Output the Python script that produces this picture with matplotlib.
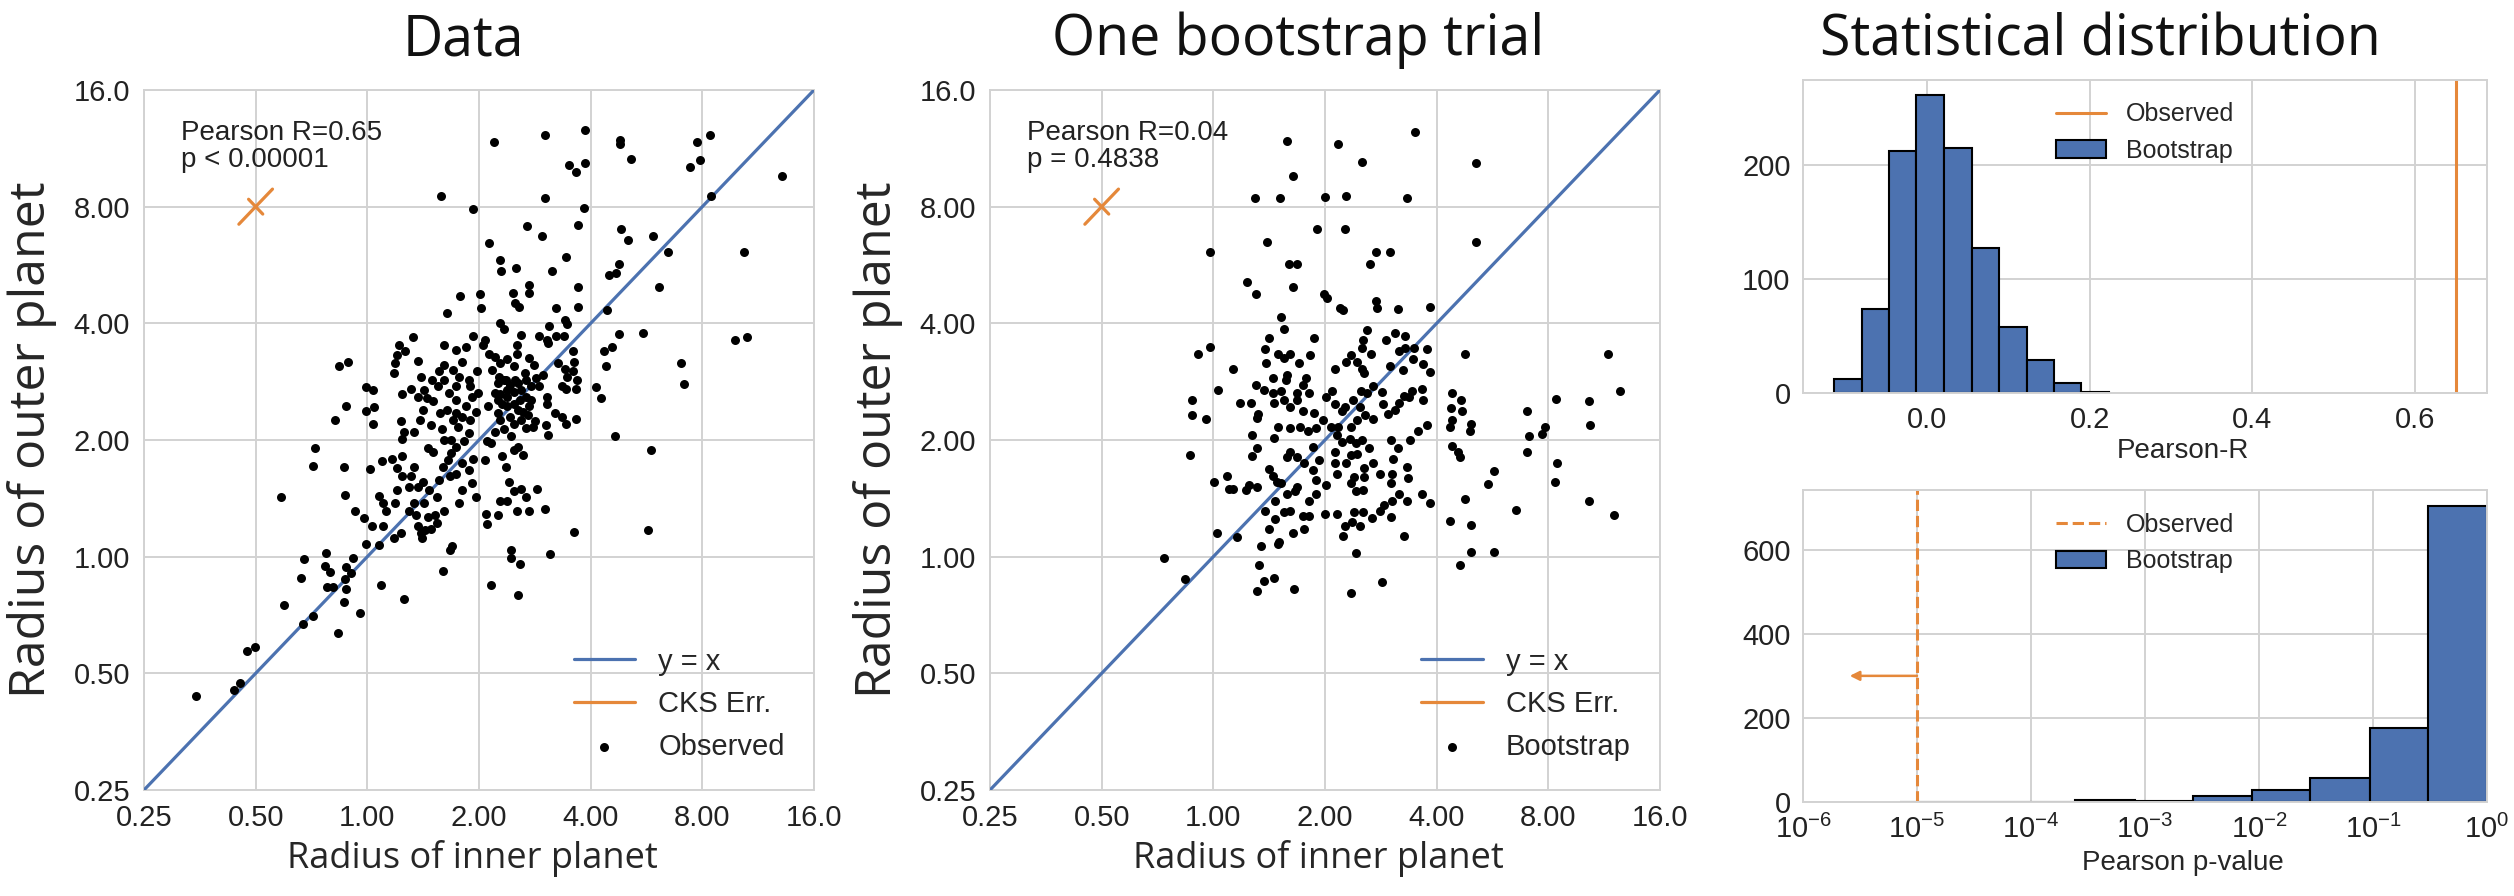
import numpy as np
import matplotlib
matplotlib.use('Agg')
import matplotlib.pyplot as plt
from matplotlib.ticker import NullLocator, FixedLocator, LogFormatterSciNotation

plt.style.use('seaborn-v0_8-whitegrid')
plt.rcParams['font.family'] = ['Liberation Sans', 'DejaVu Sans']
plt.rcParams['mathtext.fontset'] = 'custom'
plt.rcParams['mathtext.rm'] = 'Liberation Sans'
plt.rcParams['mathtext.it'] = 'Liberation Sans:italic'

BLUE = '#4C72B0'
ORANGE = '#E5883A'
GRID = '#d2d2d2'

# ---- scatter data, read as log2(radius) off the log2 axes ----
obs_inner_log2 = [
    -1.53, -1.19, -1.14, -1.08, -1.01, -0.75, -0.58, -0.49, -0.26, -0.59, -0.57, -0.37, -0.38, -0.33,
    -0.36, -0.31, -0.21, -0.19, -0.20, -0.15, -0.19, -0.13, -0.07, 0.12, 0.33, 0.68, 0.74, 0.76, -0.01,
    -0.77, -0.49, -0.47, -0.21, -0.20, -0.11, -0.03, 0.04, 0.10, -0.29, -0.19, -0.25, -0.17, -0.01,
    0.05, -0.01, 0.06, 0.05, 0.02, 0.13, 0.10, 0.14, 0.17, 0.14, 0.24, 0.30, 0.25, 0.27, 0.22, 0.31,
    0.30, 0.25, 0.24, 0.27, 0.28, 0.34, 0.41, 0.45, 0.31, 0.33, 0.42, 0.27, 0.31, 0.37, 0.37, 0.44,
    0.45, 0.48, 0.52, 0.49, 0.57, 0.62, 0.69, 0.61, 0.54, 0.39, 0.45, 0.42, 0.50, 0.55, 0.54, 0.59,
    0.68, 0.74, 0.79, 0.64, 0.72, 0.85, 0.94, 0.97, 0.91, 0.95, 0.79, 0.75, 0.69, 0.87, 0.67, 0.57,
    0.47, 0.50, 0.53, 0.59, 0.65, 0.71, 0.63, 0.69, 0.73, 0.79, 0.79, 0.88, 0.94, 0.85, 0.92, 0.97,
    0.81, 0.69, 0.69, 0.64, 0.79, 0.85, 0.88, 0.95, 0.92, 0.98, 0.45, 0.39, 0.48,
    2.61, 2.15, 1.89, 1.89, 1.69, 1.45, 1.45, 1.30, 1.32, 1.36, 1.01, 1.02, 1.19, 1.22, 1.77, 1.79,
    1.63, 1.54, 1.61, 1.62, 1.69, 1.76, 1.38, 1.34, 1.34, 1.84, 1.85, 1.84, 1.88, 1.87, 1.71, 1.77,
    1.79, 1.74, 1.78, 2.12, 2.19, 2.25, 2.47, 2.14, 2.05, 2.09, 2.22, 2.54, 2.51, 1.85, 1.64, 1.29,
    1.29, 1.37, 1.11, 1.35, 1.06, 1.07, 1.17, 1.34, 1.45, 1.59, 1.38, 1.42, 1.52, 1.19, 1.25, 1.27,
    1.31, 1.24, 1.31, 1.35, 1.39, 1.21, 1.11, 1.05, 1.62, 1.60, 1.48, 1.42, 1.50, 1.68, 1.74, 1.78,
    1.87, 1.61, 1.61, 1.45, 1.39, 1.29, 1.22, 1.14, 1.07, 1.28, 1.17, 1.08, 1.14, 1.19, 1.25, 1.31,
    1.35, 1.42, 1.47, 1.51, 1.57, 1.41, 1.22, 1.17, 1.12, 1.19, 1.25, 1.31, 1.14, 1.09, 1.45, 1.49,
    1.05, 1.04, 1.54, 1.37, 1.25, 2.81, 2.84, 3.29, 3.40,
    1.13, 1.59, 1.95, 1.81, 1.87, 1.95, 2.26, 2.26, 2.36, 2.95, 3.07, 2.89, 2.98, 3.71, 3.08, 0.66,
    0.95, 1.59, 1.94, 1.43, 1.56, 1.89, 1.09, 1.78, 2.27, 2.33, 2.56, 2.69, 3.37, 1.19, 1.20, 1.33,
    1.65, 2.25, 2.23, 2.16, 0.83, 0.71,
    1.18, 1.24, 1.28, 1.32, 1.38, 1.42, 1.47, 1.25, 1.31, 1.35, 1.21, 1.17, 1.44, 1.38, 1.31, 1.19,
    0.51, 0.58, 0.77, 0.82, 0.91, 0.99, 0.77, 0.79, 0.91, 0.75, 0.85, 0.42, 0.51, 0.62, 0.82, 0.31,
]
obs_outer_log2 = [
    -1.19, -1.14, -1.08, -0.81, -0.77, -0.41, -0.58, -0.51, -0.65, -0.18, -0.02, 0.03, -0.08, -0.13,
    -0.26, -0.26, -0.39, -0.28, -0.19, -0.14, -0.09, -0.01, -0.48, -0.24, -0.36, -0.12, 0.06, 0.09, 0.11,
    0.51, 0.78, 0.93, 0.77, 0.53, 0.39, 0.33, 0.26, 0.10, 1.17, 1.29, 1.63, 1.67, 1.45,
    1.43, 1.25, 1.28, 1.14, 0.75, 0.82, 0.52, 0.46, 0.39, 0.26, 0.16, 0.20, 0.46, 0.57, 0.84, 1.39,
    1.16, 1.66, 1.57, 1.73, 1.81, 1.76, 1.88, 1.68, 1.01, 1.07, 1.07, 0.76, 0.69, 0.60, 0.39, 0.36,
    0.26, 0.20, 0.23, 0.16, 0.24, 0.29, 0.39, 0.36, 0.34, 0.69, 0.60, 0.77, 0.64, 0.57, 0.93, 0.90,
    0.77, 0.69, 0.71, 0.66, 0.83, 0.57, 0.63, 0.51, 0.74, 0.84, 0.94, 1.00, 1.00, 0.99, 1.09, 1.13,
    1.17, 1.26, 1.36, 1.33, 1.23, 1.26, 1.46, 1.51, 1.40, 1.46, 1.34, 1.29, 1.37, 1.20, 1.17, 1.24,
    1.11, 1.81, 1.64, 1.59, 1.77, 1.67, 1.80, 1.89, 1.46, 1.59, 1.37, 1.44, 1.54,
    2.31, 2.11, 2.31, 2.14, 2.13, 2.33, 2.26, 2.26, 2.17, 2.14, 2.25, 2.13, 2.00, 1.95, 2.03, 1.99,
    1.98, 1.89, 1.86, 1.83, 1.89, 1.89, 1.90, 1.81, 1.74, 1.76, 1.67, 1.59, 1.51, 1.44, 1.66, 1.61,
    1.54, 1.46, 1.44, 1.76, 1.80, 1.91, 1.92, 1.63, 1.45, 1.36, 1.03, 0.91, 0.23, 0.21, 0.02, 0.06,
    -0.01, -0.06, -0.24, -0.33, 0.37, 0.28, 0.36, 0.39, 0.39, 0.41, 0.58, 0.51, 0.58, 0.48, 0.48, 0.64,
    0.56, 0.77, 0.91, 0.94, 0.87, 0.86, 0.97, 0.83, 1.04, 1.13, 1.11, 1.10, 1.16, 1.23, 1.20, 1.14,
    1.18, 1.37, 1.31, 1.29, 1.24, 1.03, 1.09, 1.07, 0.99, 1.20, 1.23, 1.29, 1.40, 1.39, 1.43, 1.41,
    1.49, 1.51, 1.46, 1.53, 1.56, 1.57, 1.51, 1.49, 1.60, 1.66, 1.69, 1.63, 1.71, 1.74, 1.70, 1.64,
    1.86, 1.81, 1.46, 1.34, 1.29, 1.66, 1.48, 1.86, 1.88,
    3.55, 3.61, 3.66, 3.36, 3.30, 3.37, 3.57, 3.54, 3.41, 3.55, 3.61, 3.34, 3.40, 3.26, 3.09, 3.09,
    2.98, 3.07, 2.99, 2.83, 2.75, 2.84, 2.69, 2.57, 2.81, 2.71, 2.75, 2.61, 2.61, 2.54, 2.45, 2.47,
    2.45, 2.51, 2.43, 2.41, 2.23, 2.09,
    1.54, 1.51, 1.47, 1.51, 1.43, 1.37, 1.34, 1.37, 1.31, 1.26, 1.31, 1.34, 1.21, 1.17, 1.14, 1.17,
    1.43, 1.51, 1.60, 1.54, 1.51, 1.40, 1.17, 1.23, 1.06, 0.89, 0.80, 0.46, 0.46, 0.51, 0.46, 0.86,
]

boot_inner_log2 = [
    -0.44, -0.25, 0.03, 0.21, 0.39, 0.45, 0.54, 0.41, 0.43, 0.58, 0.50, 0.55, 0.46, -0.21, -0.19, -0.19,
    -0.07, 0.04, 0.01, 0.12, 0.14, 0.18, 0.29, 0.32, 0.39, 0.35, 0.39, 0.35, 0.39, 0.40, 0.34, 0.24,
    0.54, 0.54, 0.53, 0.45, 0.38, 0.50, 0.53, 0.57, 0.55, 0.58,
    3.64, 3.07, 3.36, 3.37, 2.81, 2.97, 2.94, 2.83, 2.81, 3.08, 3.06, 3.36, 3.59, 2.71, 2.51, 2.46,
    2.25, 2.31, 2.31, 2.51, 2.21, 2.12, 2.14, 2.22, 2.23, 2.13, 2.14, 2.12, 2.31, 2.30, 2.14, 2.19,
    2.21, 1.94, 1.87, 1.73, 1.66, 1.60, 1.53, 1.49, 1.59, 1.42, 1.71, 1.34, 1.26, 1.11, 1.00, 1.31,
    1.24, 1.18, 1.16, 1.28, 0.86, 0.80, 0.69, 0.63, 0.81, 0.71, 0.59, 0.72, 1.23, 1.51, 1.74, 1.73,
    1.60, 1.59, 1.61, 1.65, 1.59, 1.76, 1.83, 1.91, 1.88, 1.87, 1.78, 1.75, 1.71, 1.66, 1.63, 1.56,
    1.52, 1.51, 1.43, 1.38, 1.32, 1.25, 1.31, 1.18, 1.15, 1.36, 1.43, 1.29, 1.23, 1.12, 1.05, 1.11,
    1.15, 1.22, 1.28, 1.33, 1.39, 1.29, 1.23, 1.19, 1.35, 1.43, 1.49, 1.26, 1.35, 1.23, 1.28, 1.34,
    1.09, 1.11, 1.01, 0.92, 0.89, 0.81, 0.75, 0.69, 0.66, 0.92, 0.86, 0.75, 0.73, 0.66, 0.61, 1.09,
    0.95, 0.89, 0.85, 0.78, 0.69, 0.92, 0.98, 0.90, 0.80, 0.75, 0.69, 0.63, 0.86, 0.80, 0.75, 1.01,
    1.09, 1.06, 0.65, 0.61,
    0.66, 1.12, 1.81, 1.33, 2.35, 0.71, 0.37, 0.60, 1.00, 1.19, 1.73, 0.93, 1.18, 0.48, -0.03, 2.35,
    0.68, 0.75, 1.46, 1.58, 1.40, 0.30, 0.38, 0.71, 0.99, 1.02, 1.13, 1.16, 1.46, 1.47, 1.65, 1.94,
    0.61, 0.63, 0.50, 0.90, -0.03, -0.14, 0.46, 0.58, 0.69, 0.87, 0.47, 0.63, 0.18, 0.77, 1.38, 1.34,
    1.33, 1.41, 1.55, 1.63, 1.72, 1.66, 1.72, 1.80, 1.91, 1.79, 1.88, 1.94, 1.70, 1.23, 1.19, 1.29,
    1.09, 1.33, 1.35, 2.25, 3.53, 1.58, 0.66, 0.83, 0.53,
]
boot_outer_log2 = [
    -0.01, -0.19, 0.20, 0.17, -0.29, -0.21, -0.18, -0.07, 0.09, 0.11, 0.24, 0.32, 0.39, 0.87, 1.21, 1.34,
    1.18, 1.43, 0.64, 0.69, 0.58, 0.58, 0.57, 0.61, 0.60, 0.86, 0.93, 1.04, 1.19, 1.22, 1.32, 1.32,
    1.02, 1.32, 1.40, 1.43, 1.47, 0.75, 0.69, 0.64, 0.48, 1.11,
    1.42, 1.35, 1.33, 1.13, 1.25, 1.11, 1.05, 1.03, 0.90, 0.80, 0.64, 0.48, 0.36, 0.40, 0.73, 0.62,
    0.49, 0.27, 0.04, 0.04, -0.07, 0.31, 1.40, 1.34, 1.25, 1.27, 1.17, 1.11, 1.14, 1.08, 0.95, 0.90,
    0.85, 0.46, 0.54, 0.48, 0.54, 0.48, 0.44, 0.39, 0.34, 0.33, 0.18, 0.38, 0.38, 0.37, 0.37, 0.26,
    0.30, 0.26, 0.18, 0.03, 0.35, 0.35, 0.39, 0.38, 0.24, 0.20, 0.13, -0.28, -0.31, -0.22, 0.67, 0.77,
    0.71, 0.63, 0.84, 0.93, 1.00, 1.00, 1.08, 1.13, 1.34, 1.44, 1.42, 1.37, 1.38, 1.32, 1.26, 1.22,
    1.31, 1.41, 1.46, 1.40, 1.42, 1.34, 1.28, 1.28, 1.25, 1.21, 1.18, 1.17, 1.11, 1.11, 1.11, 1.04,
    0.98, 1.01, 0.97, 1.00, 0.93, 0.88, 0.87, 0.80, 0.76, 0.80, 0.71, 0.68, 0.68, 0.63, 0.56, 0.57,
    0.80, 0.71, 0.61, 0.66, 0.74, 0.80, 0.85, 0.90, 0.85, 0.54, 0.48, 0.60, 0.56, 0.54, 0.63, 0.90,
    0.83, 0.94, 1.08, 1.11, 1.10, 1.10, 1.17, 1.23, 1.25, 1.34, 1.28, 1.34, 1.40, 1.47, 1.40, 1.37,
    1.31, 1.42, 1.51, 1.42,
    3.56, 3.54, 3.64, 3.38, 3.37, 3.26, 3.07, 3.07, 3.08, 3.09, 3.07, 2.81, 2.81, 2.70, 2.61, 2.70,
    2.51, 2.51, 2.61, 2.61, 2.51, 2.35, 2.25, 2.31, 2.25, 2.22, 2.13, 2.11, 2.19, 2.13, 2.12, 2.14,
    2.05, 1.95, 1.87, 1.87, 1.80, 1.74, 1.78, 1.74, 1.74, 1.73, 1.66, 1.70, 1.61, 1.66, 1.94, 1.86,
    1.79, 1.74, 1.86, 1.92, 1.89, 1.76, 1.79, 1.79, 1.78, 1.69, 1.65, 1.58, 1.60, 1.73, 1.67, 1.67,
    1.61, 1.61, 1.57, 1.74, 1.74, 1.63, 1.56, 1.53, 1.53,
]

radius_ticks = [0.25, 0.5, 1.0, 2.0, 4.0, 8.0, 16.0]
radius_tick_labels = ['0.25', '0.50', '1.00', '2.00', '4.00', '8.00', '16.0']

# CKS error marker: centre and fractional arm sizes
cks_x, cks_y = 0.5, 8.0
cks_err_corr = 0.11
cks_err_indep = 0.045

# ---- bootstrap histograms ----
r_bin_edges = [-0.114, -0.080, -0.046, -0.013, 0.021, 0.055, 0.089, 0.123, 0.156, 0.190, 0.224]
r_counts = [12, 74, 213, 262, 215, 127, 58, 29, 9, 1]
observed_r = 0.65

p_bin_edges_log10 = [-5.15, -4.64, -4.12, -3.61, -3.09, -2.58, -2.06, -1.55, -1.03, -0.52, 0.0]
p_counts = [1, 0, 1, 4, 2, 14, 28, 56, 175, 705]
observed_p = 1e-5
arrow_y = 300
arrow_tip_log10 = -5.59

W, H = 2514, 896
fig = plt.figure(figsize=(W / 100, H / 100), dpi=100)


def px_axes(left, top, right, bottom):
    return fig.add_axes([left / W, 1 - bottom / H, (right - left) / W, (bottom - top) / H])


def style_axes(ax, labelsize, pad):
    ax.grid(True, color=GRID, lw=1.4)
    for sp in ax.spines.values():
        sp.set_color(GRID)
        sp.set_linewidth(1.4)
    ax.tick_params(axis='both', length=0, pad=pad, labelsize=labelsize, colors='#222222')


def draw_scatter(ax, inner_log2, outer_log2, point_label, stat_text):
    ax.set_xscale('log', base=2)
    ax.set_yscale('log', base=2)
    ax.plot([radius_ticks[0], radius_ticks[-1]], [radius_ticks[0], radius_ticks[-1]],
            color=BLUE, lw=2.3, label='y = x', zorder=3)
    lo, hi = 1 / (1 + cks_err_corr), 1 + cks_err_corr
    ax.plot([cks_x * lo, cks_x * hi], [cks_y * lo, cks_y * hi], color=ORANGE, lw=2.3,
            label='CKS Err.', zorder=3)
    s = 1 + cks_err_indep
    ax.plot([cks_x / s, cks_x * s], [cks_y * s, cks_y / s], color=ORANGE, lw=2.3, zorder=3)
    ax.scatter(np.power(2.0, inner_log2), np.power(2.0, outer_log2), s=42, c='black',
               linewidths=0, label=point_label, zorder=4)
    ax.set_xlim(radius_ticks[0], radius_ticks[-1])
    ax.set_ylim(radius_ticks[0], radius_ticks[-1])
    for axis in (ax.xaxis, ax.yaxis):
        axis.set_major_locator(FixedLocator(radius_ticks))
        axis.set_minor_locator(NullLocator())
    ax.set_xticklabels(radius_tick_labels)
    ax.set_yticklabels(radius_tick_labels)
    style_axes(ax, 21, 10)
    ax.text(0.055, 0.957, stat_text, transform=ax.transAxes, ha='left', va='top',
            fontsize=20, linespacing=1.05, color='#222222')
    ax.legend(loc='lower right', fontsize=21, frameon=False, scatterpoints=1,
              handlelength=2.1, borderaxespad=0.6)
    ax.set_xlabel('Radius of inner planet', family='Open Sans', fontsize=26)
    ax.set_ylabel('Radius of outer planet', family='Open Sans', fontsize=36)
    ax.xaxis.set_label_coords(0.49, -0.072)
    ax.yaxis.set_label_coords(-0.13, 0.5)


ax1 = px_axes(144, 90, 814, 790)
draw_scatter(ax1, obs_inner_log2, obs_outer_log2, 'Observed', 'Pearson R=0.65\np < 0.00001')

ax2 = px_axes(990, 90, 1660, 790)
draw_scatter(ax2, boot_inner_log2, boot_outer_log2, 'Bootstrap', 'Pearson R=0.04\np = 0.4838')

# Pearson-R distribution
ax3 = px_axes(1803, 80, 2487, 393)
ax3.axvline(observed_r, color=ORANGE, lw=2.2, label='Observed')
ax3.bar(r_bin_edges[:-1], r_counts, width=np.diff(r_bin_edges), align='edge',
        color=BLUE, edgecolor='black', linewidth=1.5, label='Bootstrap')
ax3.set_xlim(-0.152, 0.688)
ax3.set_ylim(0, 275)
ax3.set_xticks([0.0, 0.2, 0.4, 0.6])
ax3.set_yticks([0, 100, 200])
style_axes(ax3, 21, 9)
ax3.set_xlabel('Pearson-R', fontsize=20)
ax3.xaxis.set_label_coords(0.555, -0.145)
ax3.legend(loc='upper center', fontsize=18, frameon=False)

# Pearson p-value distribution
ax4 = px_axes(1803, 490, 2487, 802)
ax4.set_xscale('log')
p_edges = np.power(10.0, p_bin_edges_log10)
ax4.axvline(observed_p, color=ORANGE, lw=2.2, ls='--', label='Observed')
ax4.bar(p_edges[:-1], p_counts, width=np.diff(p_edges), align='edge',
        color=BLUE, edgecolor='black', linewidth=1.5, label='Bootstrap')
ax4.annotate('', xy=(10 ** arrow_tip_log10, arrow_y), xytext=(observed_p, arrow_y),
             arrowprops=dict(arrowstyle='-|>', color=ORANGE, lw=1.8, mutation_scale=14,
                             shrinkA=0, shrinkB=0))
ax4.set_xlim(1e-6, 1e0)
ax4.set_ylim(0, 742)
ax4.xaxis.set_major_locator(FixedLocator([10.0 ** k for k in range(-6, 1)]))
ax4.xaxis.set_major_formatter(LogFormatterSciNotation())
ax4.xaxis.set_minor_locator(NullLocator())
ax4.set_yticks([0, 200, 400, 600])
style_axes(ax4, 21, 9)
ax4.set_xlabel('Pearson p-value', fontsize=20)
ax4.xaxis.set_label_coords(0.555, -0.155)
ax4.legend(loc='upper center', fontsize=18, frameon=False)

# column titles
for x, title in [(463, 'Data'), (1298, 'One bootstrap trial'), (2100, 'Statistical distribution')]:
    fig.text(x / W, 1 - 55 / H, title, ha='center', va='baseline', family='Open Sans',
             fontsize=40, color='#111111')

fig.savefig('out.png', dpi=100)
